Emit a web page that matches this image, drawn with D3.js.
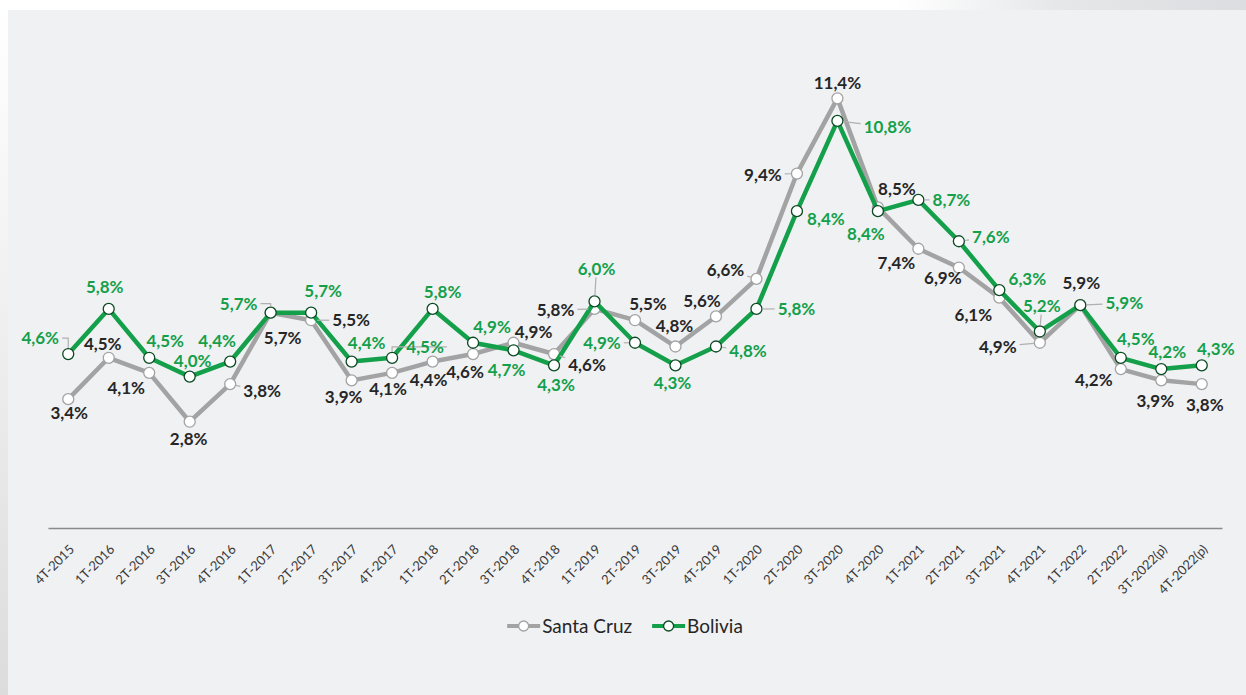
<!DOCTYPE html>
<html>
<head>
<meta charset="utf-8">
<title>Santa Cruz vs Bolivia</title>
<style>
  body { margin: 0; background: #fff; }
  svg { display: block; font-family: Lato, "Open Sans", sans-serif; }
</style>
</head>
<body>
<svg width="1246" height="695"></svg>
<script src="https://cdn.jsdelivr.net/npm/d3@7"></script>
<script>

var periods = ["4T-2015","1T-2016","2T-2016","3T-2016","4T-2016","1T-2017","2T-2017","3T-2017","4T-2017",
    "1T-2018","2T-2018","3T-2018","4T-2018","1T-2019","2T-2019","3T-2019","4T-2019","1T-2020","2T-2020",
    "3T-2020","4T-2020","1T-2021","2T-2021","3T-2021","4T-2021","1T-2022","2T-2022","3T-2022(p)","4T-2022(p)"];

var santaCruz = [3.4,4.5,4.1,2.8,3.8,5.7,5.5,3.9,4.1,4.4,4.6,4.9,4.6,5.8,5.5,4.8,5.6,6.6,9.4,11.4,8.5,7.4,6.9,6.1,4.9,5.9,4.2,3.9,3.8];
var bolivia   = [4.6,5.8,4.5,4.0,4.4,5.7,5.7,4.4,4.5,5.8,4.9,4.7,4.3,6.0,4.9,4.3,4.8,5.8,8.4,10.8,8.4,8.7,7.6,6.3,5.2,5.9,4.5,4.2,4.3];

var seriesNames = ["Santa Cruz", "Bolivia"];

// label placement relative to each point: [dx, dy, leader]  (leader: 0 none, 1 straight, 2 elbow)
var scLabelPos = [[1,14,0],[-6,-14,0],[-23,15,0],[-1,17,0],[32,7,1],[12,25,0],[40,0,1],[-8,17,0],[-4,16,0],
    [-4,18,0],[-8,18,0],[20,-11,0],[33,11,1],[-39,1,1],[13,-16,0],[-1,-21,0],[-14,-16,0],[-31,-9,1],[-34,1,1],
    [0,-15,0],[19,-19,0],[-22,14,0],[-16,10,0],[-26,17,0],[-42,4,1],[1,-22,0],[-27,11,0],[-6,21,0],[3,21,0]];
var boLabelPos = [[-28,-16,2],[-4,-22,0],[16,-17,0],[3,-16,0],[-13,-21,0],[-32,-9,2],[12,-22,0],[15,-19,0],[33,-11,2],
    [10,-17,0],[19,-16,0],[-7,20,0],[2,20,0],[2,-33,1],[-33,0,1],[-3,18,0],[32,4,1],[40,0,1],[29,8,0],
    [50,6,1],[-12,23,0],[33,0,1],[32,-4,1],[28,-11,0],[2,-26,1],[44,-2,1],[15,-19,0],[6,-17,0],[14,-16,0]];

var svg = d3.select("svg"),
    width = +svg.attr("width"),
    height = +svg.attr("height");

var colors = { sc: "#a3a3a3", bo: "#14a04a", boDark: "#0b4a22", text: "#262626", leader: "#b0b0b0" };

// background frame
var defs = svg.append("defs");
var gTop = defs.append("linearGradient").attr("id", "gtop");
gTop.append("stop").attr("offset", "0.72").attr("stop-color", "#fff");
gTop.append("stop").attr("offset", "0.85").attr("stop-color", "#e6e7e9");
gTop.append("stop").attr("offset", "1").attr("stop-color", "#dcdde0");
var gLeft = defs.append("linearGradient").attr("id", "gleft").attr("x1", 0).attr("y1", 0).attr("x2", 0).attr("y2", 1);
gLeft.append("stop").attr("offset", "0").attr("stop-color", "#fff");
gLeft.append("stop").attr("offset", "1").attr("stop-color", "#dcdcdc");

svg.append("rect").attr("width", width).attr("height", 10).attr("fill", "url(#gtop)");
svg.append("rect").attr("y", 10).attr("width", 8).attr("height", height - 10).attr("fill", "url(#gleft)");
svg.append("rect").attr("x", 8).attr("y", 10).attr("width", width - 8).attr("height", height - 10).attr("fill", "#f0f1f3");

var x = d3.scalePoint().domain(periods).range([48, 1222]).padding(0.5),
    y = d3.scaleLinear().domain([0, 12]).range([527, 75.8]);

// x axis
var xAxis = d3.axisBottom(x).tickSize(0).tickPadding(0);
var gx = svg.append("g").attr("transform", "translate(0,528)").call(xAxis)
    .attr("font-family", null).attr("font-size", null);
gx.select(".domain").attr("stroke", "#8a8a8a").attr("stroke-width", 1.5);
gx.selectAll(".tick text")
    .attr("fill", "#3a3a3a")
    .style("font-size", "13px")
    .attr("text-anchor", "end")
    .attr("dy", "0.35em")
    .attr("y", 0)
    .attr("transform", "translate(3,19) rotate(-45)");

var line = d3.line()
    .x(function(d, i) { return x(periods[i]); })
    .y(function(d) { return y(d); });

function drawSeries(values, lineColor, markerStroke) {
    var g = svg.append("g");
    g.append("path")
        .datum(values)
        .attr("fill", "none")
        .attr("stroke", lineColor)
        .attr("stroke-width", 4.5)
        .attr("stroke-linejoin", "round")
        .attr("d", line);
    g.selectAll("circle")
        .data(values)
        .join("circle")
        .attr("cx", function(d, i) { return x(periods[i]); })
        .attr("cy", function(d) { return y(d); })
        .attr("r", 5.5)
        .attr("fill", "#fff")
        .attr("stroke", markerStroke)
        .attr("stroke-width", 1.3);
    return g;
}

function drawLabels(values, labelColor, labelPos) {
    var g = svg.append("g");
    values.forEach(function(v, i) {
        var px = x(periods[i]), py = y(v),
            p = labelPos[i],
            cx = px + p[0], cy = py + p[1];
        var t = g.append("text")
            .attr("x", cx)
            .attr("y", cy)
            .attr("dy", "0.36em")
            .attr("text-anchor", "middle")
            .attr("fill", labelColor)
            .style("font-size", "17px")
            .style("font-weight", "bold")
            .text(d3.format(".1f")(v).replace(".", ",") + "%");
        if (!p[2]) return;
        var w = t.node().getComputedTextLength() / 2 + 3, h = 9;
        var lx, ly, sx, sy;
        if (p[2] === 2) {
            g.insert("path", "text")
                .attr("fill", "none")
                .attr("stroke", colors.leader)
                .attr("stroke-width", 1.2)
                .attr("d", "M" + (cx + w) + "," + cy + "H" + px + "V" + (py - 6));
            return;
        }
        var dx = cx - px, dy = cy - py,
            len = Math.sqrt(dx * dx + dy * dy),
            tBox = Math.min(Math.abs(dx) > 0 ? w / Math.abs(dx) : 1e9, Math.abs(dy) > 0 ? h / Math.abs(dy) : 1e9);
        lx = cx - dx * tBox; ly = cy - dy * tBox;
        sx = px + dx / len * 6; sy = py + dy / len * 6;
        if ((lx - px) * dx + (ly - py) * dy <= 6 * len) return;
        g.insert("line", "text")
            .attr("x1", sx).attr("y1", sy)
            .attr("x2", lx).attr("y2", ly)
            .attr("stroke", colors.leader)
            .attr("stroke-width", 1.2);
    });
}

drawSeries(santaCruz, colors.sc, colors.sc);
drawSeries(bolivia, colors.bo, colors.boDark);
drawLabels(santaCruz, colors.text, scLabelPos);
drawLabels(bolivia, colors.bo, boLabelPos);

// legend
var legend = svg.append("g");
var legendItems = [
    { name: seriesNames[0], color: colors.sc, stroke: colors.sc },
    { name: seriesNames[1], color: colors.bo, stroke: colors.boDark }
];
var lx = 0, itemGap = 20;
legendItems.forEach(function(it) {
    var item = legend.append("g").attr("transform", "translate(" + lx + ",0)");
    item.append("line").attr("x1", 0).attr("x2", 33).attr("y1", 0).attr("y2", 0)
        .attr("stroke", it.color).attr("stroke-width", 4);
    item.append("circle").attr("cx", 16.5).attr("cy", 0).attr("r", 5)
        .attr("fill", "#fff").attr("stroke", it.stroke).attr("stroke-width", 1.3);
    var t = item.append("text").attr("x", 35).attr("y", 0).attr("dy", "0.35em")
        .attr("fill", colors.text).style("font-size", "19px").text(it.name);
    lx += 35 + t.node().getComputedTextLength() + itemGap;
});
var lw = lx - itemGap;
legend.attr("transform", "translate(" + (625 - lw / 2) + ",626)");

</script>
</body>
</html>
